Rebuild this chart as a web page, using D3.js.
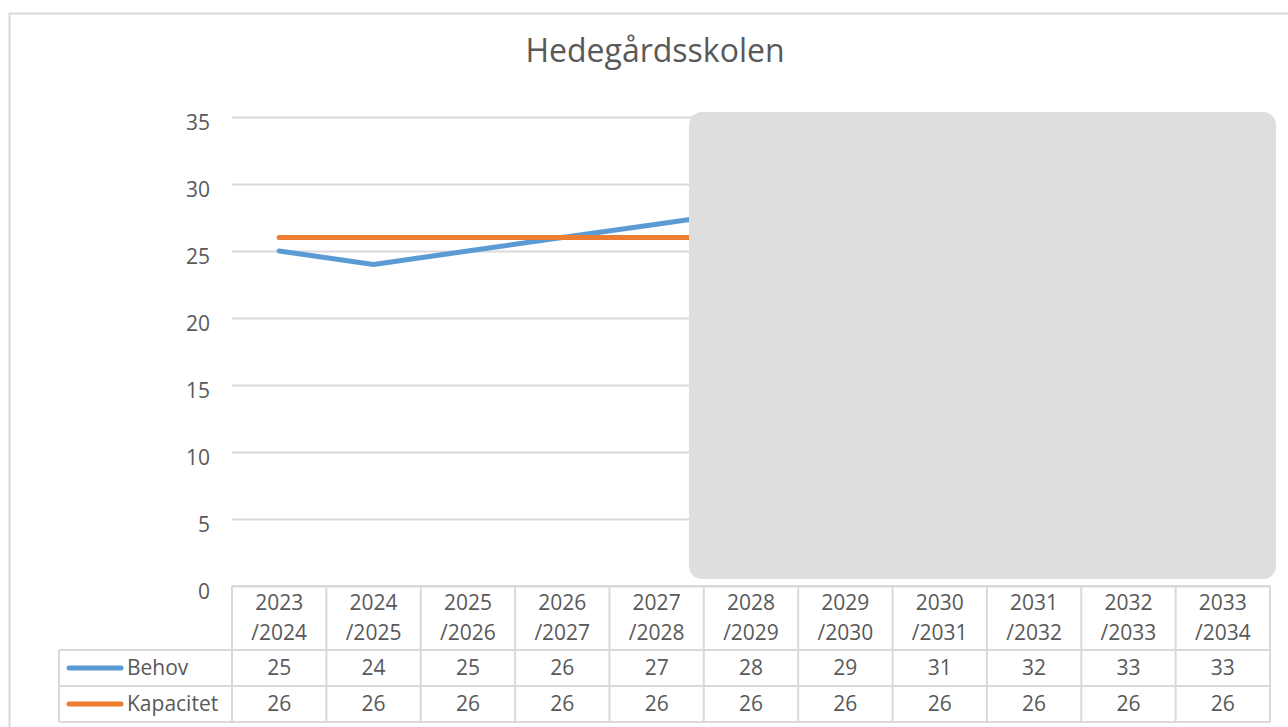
<!DOCTYPE html>
<html>
<head>
<meta charset="utf-8">
<script src="https://cdn.jsdelivr.net/npm/d3@7"></script>
<style>
  body { margin: 0; background: #fff; }
  text { font-family: "Open Sans", sans-serif; fill: #595959; }
</style>
</head>
<body>
<div class="container"></div>
<script>
var years = ["2023/2024", "2024/2025", "2025/2026", "2026/2027", "2027/2028", "2028/2029",
             "2029/2030", "2030/2031", "2031/2032", "2032/2033", "2033/2034"];
var behov = [25, 24, 25, 26, 27, 28, 29, 31, 32, 33, 33];
var kapacitet = [26, 26, 26, 26, 26, 26, 26, 26, 26, 26, 26];
var yTicks = [0, 5, 10, 15, 20, 25, 30, 35];

var W = 1288, H = 727;
var grid = "#d9d9d9";
var series = [
  {name: "Behov", values: behov, color: "#5b9bd5"},
  {name: "Kapacitet", values: kapacitet, color: "#ed7d31"}
];

var svg = d3.select(".container").append("svg")
  .attr("width", W).attr("height", H);

// chart frame
svg.append("rect")
  .attr("x", 9.5).attr("y", 13.5).attr("width", 1300).attr("height", 800)
  .attr("fill", "#fff").attr("stroke", grid).attr("stroke-width", 2);

svg.append("text")
  .attr("x", 655).attr("y", 62)
  .attr("text-anchor", "middle")
  .style("font-size", "32px")
  .text("Hedegårdsskolen");

var x = d3.scaleBand().domain(years).range([232, 1270]);
var y = d3.scaleLinear().domain([0, 35]).range([586, 117]);

// gridlines + y labels
var ya = svg.append("g")
  .attr("transform", "translate(232,0)")
  .call(d3.axisLeft(y).tickValues(yTicks).tickSize(-1038).tickPadding(22));
ya.select(".domain").remove();
ya.selectAll("line").attr("stroke", grid).attr("stroke-width", 2);
ya.selectAll("text")
  .style("font-size", "21px")
  .style("font-family", "'Open Sans', sans-serif")
  .attr("fill", "#595959")
  .attr("dy", "0.6em");

// lines
var line = d3.line()
  .x(function(d, i) { return x(years[i]) + x.bandwidth() / 2; })
  .y(function(d) { return y(d); });

series.forEach(function(s) {
  svg.append("path")
    .datum(s.values)
    .attr("fill", "none")
    .attr("stroke", s.color)
    .attr("stroke-width", 5)
    .attr("stroke-linecap", "round")
    .attr("stroke-linejoin", "round")
    .attr("d", line);
});

// overlay box
svg.append("rect")
  .attr("x", 689).attr("y", 112).attr("width", 587).attr("height", 467)
  .attr("rx", 13).attr("fill", "#dedede");

// data table
var rowTop = 586, rowHead = 650, row1 = 686, row2 = 722, tableLeft = 59;
var t = svg.append("g").attr("stroke", grid).attr("stroke-width", 2);
t.append("line").attr("x1", 232).attr("x2", 1270).attr("y1", rowTop).attr("y2", rowTop);
[rowHead, row1, row2].forEach(function(yy) {
  t.append("line").attr("x1", tableLeft).attr("x2", 1270).attr("y1", yy).attr("y2", yy);
});
t.append("line").attr("x1", tableLeft).attr("x2", tableLeft).attr("y1", rowHead).attr("y2", row2);
years.forEach(function(yr) {
  t.append("line").attr("x1", x(yr)).attr("x2", x(yr)).attr("y1", rowTop).attr("y2", row2);
});
t.append("line").attr("x1", 1270).attr("x2", 1270).attr("y1", rowTop).attr("y2", row2);

years.forEach(function(yr) {
  var cx = x(yr) + x.bandwidth() / 2;
  var parts = yr.split("/");
  svg.append("text").attr("x", cx).attr("y", 610).attr("text-anchor", "middle")
    .style("font-size", "21px").text(parts[0]);
  svg.append("text").attr("x", cx).attr("y", 640).attr("text-anchor", "middle")
    .style("font-size", "21px").text("/" + parts[1]);
});

series.forEach(function(s, si) {
  var top = si === 0 ? rowHead : row1;
  var mid = top + 18;
  svg.append("line")
    .attr("x1", 69).attr("x2", 121).attr("y1", mid).attr("y2", mid)
    .attr("stroke", s.color).attr("stroke-width", 5).attr("stroke-linecap", "round");
  svg.append("text").attr("x", 127).attr("y", mid + 7)
    .style("font-size", "21px").text(s.name);
  s.values.forEach(function(v, i) {
    svg.append("text")
      .attr("x", x(years[i]) + x.bandwidth() / 2)
      .attr("y", mid + 7)
      .attr("text-anchor", "middle")
      .style("font-size", "21px")
      .text(v);
  });
});
</script>
</body>
</html>
